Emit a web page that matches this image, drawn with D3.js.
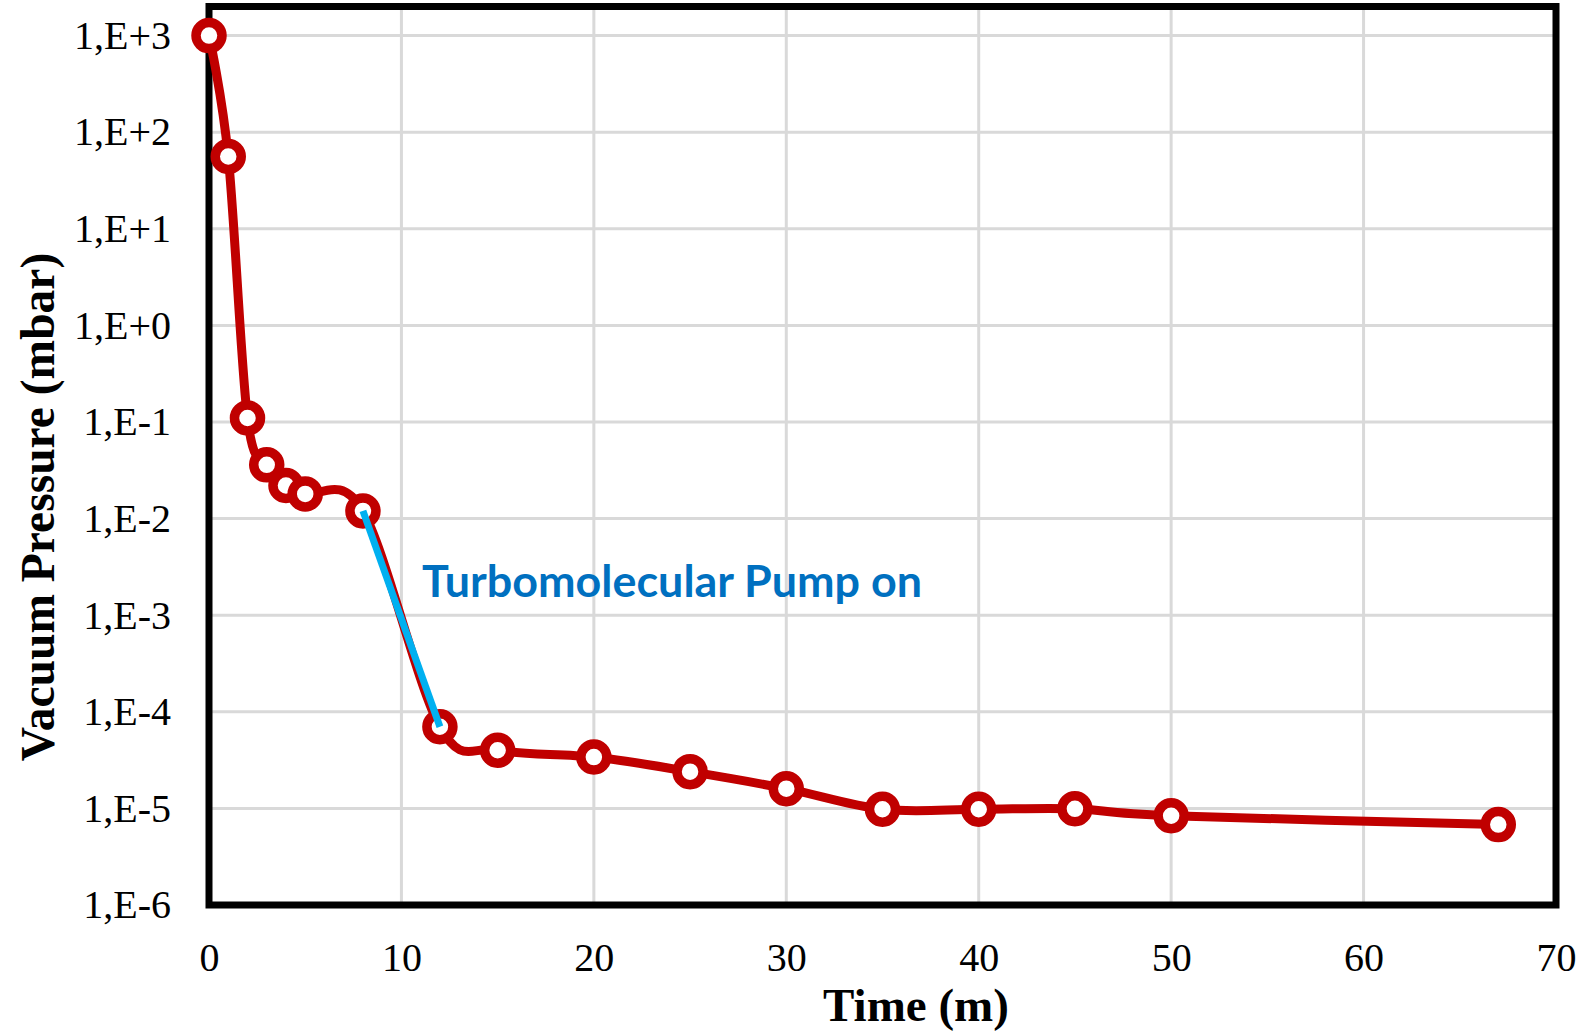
<!DOCTYPE html>
<html>
<head>
<meta charset="utf-8">
<script src="https://cdn.jsdelivr.net/npm/d3@7"></script>
<style>
  body { margin: 0; background: #fff; }
  svg { display: block; }
</style>
</head>
<body>
<div id="chart"></div>
<script>
// data
var timeMin = [0, 1, 2, 3, 4, 5, 8, 12, 15, 20, 25, 30, 35, 40, 45, 50, 67];
var pressure = [1000, 56, 0.11, 0.036, 0.022, 0.018, 0.012, 7e-5, 4e-5, 3.4e-5, 2.4e-5, 1.6e-5, 9.8e-6, 9.8e-6, 9.9e-6, 8.4e-6, 6.8e-6];
var xTicks = [0, 10, 20, 30, 40, 50, 60, 70];
var yTicks = [1e-6, 1e-5, 1e-4, 1e-3, 1e-2, 1e-1, 1e0, 1e1, 1e2, 1e3];
var yTickLabels = ["1,E-6", "1,E-5", "1,E-4", "1,E-3", "1,E-2", "1,E-1", "1,E+0", "1,E+1", "1,E+2", "1,E+3"];
// segment where the turbo pump kicks in
var turboStart = 8, turboEnd = 12;

var W = 1593, H = 1031;
var margin = {top: 6.5, right: 37, bottom: 126, left: 209};
var width = W - margin.left - margin.right,
    height = H - margin.top - margin.bottom;

var svg = d3.select("#chart").append("svg")
    .attr("width", W)
    .attr("height", H);

svg.append("rect").attr("width", W).attr("height", H).attr("fill", "#fff");

var g = svg.append("g")
    .attr("transform", "translate(" + margin.left + "," + margin.top + ")");

var x = d3.scaleLinear().domain([0, 70]).range([0, width]);
var y = d3.scaleLog().domain([1e-6, 2000]).range([height, 0]);

var serif = "'Liberation Serif', 'Times New Roman', serif";

// grid lines
g.append("g")
    .attr("class", "grid")
    .selectAll("line.v")
    .data(xTicks.slice(1, -1))
    .join("line")
        .attr("x1", d => x(d)).attr("x2", d => x(d))
        .attr("y1", 0).attr("y2", height)
        .attr("stroke", "#d9d9d9").attr("stroke-width", 3);

g.append("g")
    .attr("class", "grid")
    .selectAll("line.h")
    .data(yTicks.slice(1))
    .join("line")
        .attr("x1", 0).attr("x2", width)
        .attr("y1", d => y(d)).attr("y2", d => y(d))
        .attr("stroke", "#d9d9d9").attr("stroke-width", 3);

// axes (labels only, the frame is drawn separately)
var yAxis = g.append("g")
    .call(d3.axisLeft(y)
        .tickValues(yTicks)
        .tickFormat((d, i) => yTickLabels[i])
        .tickSize(0)
        .tickPadding(38));
yAxis.select(".domain").remove();
yAxis.selectAll("text")
    .attr("font-family", serif)
    .attr("font-size", 40)
    .attr("fill", "#000");

var xAxis = g.append("g")
    .attr("transform", "translate(0," + height + ")")
    .call(d3.axisBottom(x)
        .tickValues(xTicks)
        .tickFormat(d3.format("d"))
        .tickSize(0)
        .tickPadding(38));
xAxis.select(".domain").remove();
xAxis.selectAll("text")
    .attr("font-family", serif)
    .attr("font-size", 40)
    .attr("fill", "#000");

// plot frame
g.append("rect")
    .attr("width", width)
    .attr("height", height)
    .attr("fill", "none")
    .attr("stroke", "#000")
    .attr("stroke-width", 7);

// the pressure curve (smoothed like excel)
var pts = timeMin.map((t, i) => ({t: t, p: pressure[i]}));

g.append("path")
    .datum(pts)
    .attr("fill", "none")
    .attr("stroke", "#c00000")
    .attr("stroke-width", 9)
    .attr("stroke-linejoin", "round")
    .attr("d", d3.line()
        .x(d => x(d.t))
        .y(d => y(d.p))
        .curve(d3.curveCatmullRom.alpha(0)));

g.selectAll("circle.marker")
    .data(pts)
    .join("circle")
        .attr("class", "marker")
        .attr("cx", d => x(d.t))
        .attr("cy", d => y(d.p))
        .attr("r", 13)
        .attr("fill", "#fff")
        .attr("stroke", "#c00000")
        .attr("stroke-width", 9.5);

// turbo pump highlight
var a = pts.find(d => d.t === turboStart), b = pts.find(d => d.t === turboEnd);
g.append("line")
    .attr("x1", x(a.t)).attr("y1", y(a.p))
    .attr("x2", x(b.t)).attr("y2", y(b.p))
    .attr("stroke", "#00b0f0")
    .attr("stroke-width", 7);

svg.append("text")
    .attr("x", 422)
    .attr("y", 597)
    .attr("font-family", "Lato, 'Open Sans', sans-serif")
    .attr("font-weight", "bold")
    .attr("font-size", 43)
    .attr("fill", "#0070c0")
    .attr("textLength", 500)
    .attr("lengthAdjust", "spacingAndGlyphs")
    .text("Turbomolecular Pump on");

// axis titles
svg.append("text")
    .attr("x", 916)
    .attr("y", 1021)
    .attr("text-anchor", "middle")
    .attr("font-family", serif)
    .attr("font-weight", "bold")
    .attr("font-size", 47)
    .text("Time (m)");

svg.append("text")
    .attr("transform", "translate(54,507) rotate(-90)")
    .attr("text-anchor", "middle")
    .attr("font-family", serif)
    .attr("font-weight", "bold")
    .attr("font-size", 47.5)
    .text("Vacuum Pressure (mbar)");
</script>
</body>
</html>
